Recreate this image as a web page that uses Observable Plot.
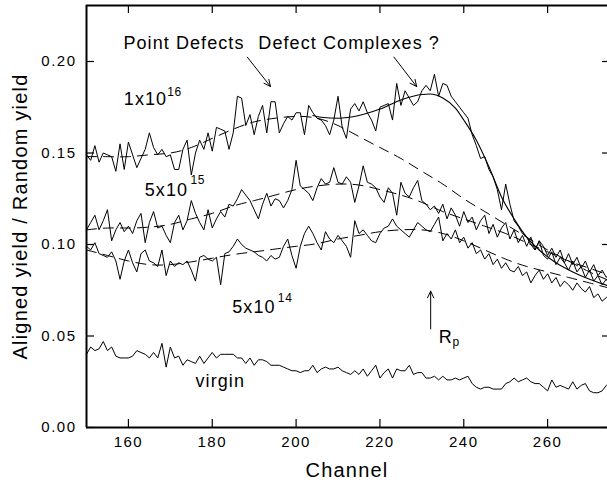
<!DOCTYPE html>
<html><head><meta charset="utf-8">
<script src="https://cdn.jsdelivr.net/npm/d3@7"></script>
<script src="https://cdn.jsdelivr.net/npm/@observablehq/plot@0.6"></script>
<style>
body{margin:0;background:#fff}
svg text{letter-spacing:0.06em}
svg [aria-label^="x-axis tick label"] text, svg [aria-label^="y-axis tick label"] text{letter-spacing:0.1em}
</style></head><body><div id="chart"></div>
<script>
// Channels (x)
const channels = d3.range(150, 276);
const xTicks = [160, 180, 200, 220, 240, 260];
const yTicks = [0, 0.05, 0.10, 0.15, 0.20];
const xDomain = [150, 275];
const yDomain = [0, 0.2306];

// Measured spectra (aligned/random yield), channels 150..275
const dose1e16 = [
0.149,0.146,0.154,0.145,0.150,0.149,0.148,0.140,0.155,0.141,
0.156,0.149,0.142,0.147,0.152,0.161,0.153,0.149,0.152,0.148,
0.149,0.141,0.141,0.152,0.157,0.138,0.150,0.157,0.152,0.161,
0.151,0.164,0.163,0.162,0.152,0.161,0.181,0.180,0.165,0.171,
0.160,0.170,0.176,0.161,0.178,0.178,0.161,0.166,0.170,0.168,
0.172,0.172,0.160,0.176,0.172,0.169,0.168,0.165,0.160,0.168,
0.181,0.164,0.158,0.174,0.177,0.173,0.178,0.172,0.168,0.162,
0.175,0.176,0.177,0.168,0.188,0.176,0.184,0.180,0.176,0.178,
0.184,0.187,0.184,0.193,0.181,0.188,0.187,0.181,0.178,0.175,
0.172,0.169,0.160,0.154,0.147,0.148,0.141,0.137,0.130,0.119,
0.133,0.122,0.113,0.110,0.106,0.104,0.100,0.097,0.102,0.094,
0.092,0.096,0.089,0.093,0.090,0.086,0.091,0.085,0.088,0.082,
0.086,0.080,0.083,0.078,0.081,0.077];
const dose5e15 = [
0.108,0.112,0.116,0.108,0.113,0.119,0.102,0.108,0.112,0.107,
0.110,0.106,0.113,0.117,0.101,0.112,0.118,0.109,0.110,0.105,
0.101,0.112,0.116,0.108,0.113,0.124,0.117,0.112,0.108,0.119,
0.109,0.114,0.118,0.115,0.122,0.121,0.125,0.130,0.127,0.124,
0.119,0.114,0.122,0.128,0.121,0.125,0.124,0.120,0.124,0.130,
0.146,0.132,0.130,0.128,0.124,0.131,0.136,0.133,0.134,0.142,
0.134,0.133,0.137,0.134,0.123,0.132,0.143,0.134,0.133,0.131,
0.126,0.123,0.131,0.128,0.116,0.134,0.128,0.126,0.131,0.135,
0.124,0.122,0.119,0.121,0.117,0.122,0.114,0.120,0.116,0.110,
0.118,0.112,0.115,0.108,0.113,0.116,0.106,0.111,0.104,0.109,
0.112,0.103,0.108,0.101,0.105,0.099,0.104,0.097,0.102,0.099,
0.094,0.098,0.093,0.097,0.090,0.095,0.089,0.093,0.087,0.091,
0.085,0.089,0.083,0.086,0.082,0.085];
const dose5e14 = [
0.099,0.097,0.101,0.095,0.094,0.093,0.096,0.091,0.081,0.091,
0.097,0.090,0.085,0.095,0.097,0.091,0.090,0.088,0.097,0.083,
0.091,0.088,0.090,0.089,0.091,0.086,0.080,0.093,0.094,0.092,
0.091,0.093,0.078,0.095,0.096,0.099,0.103,0.100,0.098,0.097,
0.096,0.094,0.093,0.091,0.094,0.092,0.093,0.099,0.103,0.094,
0.087,0.099,0.106,0.110,0.106,0.101,0.097,0.107,0.103,0.101,
0.105,0.102,0.099,0.093,0.113,0.106,0.108,0.105,0.102,0.101,
0.106,0.109,0.110,0.114,0.110,0.108,0.106,0.104,0.108,0.112,
0.110,0.108,0.107,0.111,0.115,0.102,0.106,0.103,0.108,0.101,
0.104,0.098,0.101,0.095,0.097,0.092,0.095,0.089,0.092,0.087,
0.090,0.086,0.085,0.088,0.083,0.085,0.079,0.083,0.086,0.081,
0.084,0.079,0.082,0.077,0.080,0.078,0.075,0.079,0.076,0.074,
0.077,0.071,0.073,0.069,0.071,0.073];
const virgin = [
0.040,0.044,0.042,0.043,0.047,0.042,0.044,0.039,0.038,0.038,
0.038,0.039,0.042,0.041,0.040,0.038,0.041,0.038,0.046,0.033,
0.044,0.038,0.039,0.034,0.037,0.036,0.035,0.039,0.035,0.038,
0.041,0.038,0.040,0.040,0.040,0.040,0.038,0.038,0.035,0.038,
0.034,0.037,0.037,0.036,0.034,0.034,0.034,0.033,0.032,0.031,
0.031,0.030,0.031,0.031,0.034,0.030,0.032,0.033,0.032,0.032,
0.033,0.031,0.030,0.029,0.031,0.029,0.032,0.028,0.031,0.034,
0.027,0.030,0.032,0.027,0.032,0.031,0.031,0.034,0.029,0.030,
0.030,0.027,0.027,0.028,0.026,0.028,0.026,0.026,0.027,0.026,
0.027,0.028,0.024,0.022,0.021,0.022,0.022,0.021,0.021,0.021,
0.024,0.025,0.027,0.025,0.026,0.027,0.025,0.024,0.024,0.022,
0.020,0.026,0.022,0.023,0.022,0.021,0.025,0.021,0.023,0.024,
0.020,0.019,0.019,0.020,0.023,0.025];

// Dashed fits (point-defect model), every 5 channels
const fitChannels = [150,155,160,165,170,175,180,185,190,195,200,205,210,215,220,225,230,235,240,245,250,255,260,265,270,275];
const fit1e16 = [0.148,0.148,0.148,0.149,0.150,0.153,0.158,0.163,0.167,0.169,0.170,0.169,0.165,0.159,0.153,0.147,0.140,0.133,0.125,0.118,0.111,0.104,0.097,0.091,0.085,0.080];
const fit5e15 = [0.108,0.109,0.109,0.1095,0.111,0.114,0.117,0.121,0.124,0.127,0.130,0.132,0.133,0.1325,0.130,0.127,0.123,0.118,0.114,0.110,0.106,0.101,0.096,0.091,0.087,0.083];
const fit5e14 = [0.097,0.094,0.091,0.089,0.089,0.0905,0.0925,0.0945,0.096,0.0975,0.099,0.1005,0.103,0.105,0.107,0.108,0.108,0.106,0.102,0.097,0.092,0.088,0.085,0.082,0.079,0.076];

// Solid fit with defect complexes (1e16)
const complexChannels = [204,206,210,215,220,225,230,232,235,238,240,243,246,249,252,255,258,262,266,270,275];
const complexFit = [0.1705,0.1695,0.169,0.1705,0.174,0.179,0.182,0.1822,0.180,0.1745,0.168,0.157,0.1425,0.126,0.114,0.104,0.097,0.090,0.085,0.081,0.077];

// Annotations
const labels = [
  {text: "Point Defects", x: 158.8, y: 0.2066, size: 18},
  {text: "Defect Complexes ?", x: 191.0, y: 0.2066, size: 18},
  {text: "1x10", x: 158.9, y: 0.1763, size: 18},
  {text: "16", x: 169.25, y: 0.1814, size: 12},
  {text: "5x10", x: 163.9, y: 0.1264, size: 18},
  {text: "15", x: 174.8, y: 0.1332, size: 12},
  {text: "5x10", x: 184.76, y: 0.0625, size: 18},
  {text: "14", x: 195.63, y: 0.0685, size: 12},
  {text: "virgin", x: 176.0, y: 0.0220, size: 18},
  {text: "R", x: 234.04, y: 0.0461, size: 18},
  {text: "p", x: 237.3, y: 0.0443, size: 12}
];
const arrows = [
  {x1: 188.35, y1: 0.2024, x2: 193.9, y2: 0.1863},
  {x1: 223.34, y1: 0.2024, x2: 228.76, y2: 0.1863},
  {x1: 232.1, y1: 0.0539, x2: 232.1, y2: 0.0745}
];

const xAt = (arr) => (d, i) => arr[i];
const lineOpts = (xs, extra = {}) => ({x: xAt(xs), y: d => d, stroke: "#000", strokeWidth: 1, ...extra});

const chart = Plot.plot({
  width: 607, height: 482,
  marginLeft: 86, marginRight: 0, marginTop: 5, marginBottom: 55,
  style: {fontFamily: "'Liberation Sans', Arial, Helvetica, sans-serif", background: "#fff", color: "#000"},
  x: {domain: xDomain, range: [86, 610]},
  y: {domain: yDomain, range: [427, 5]},
  marks: [
    Plot.line(virgin, lineOpts(channels)),
    Plot.line(dose5e14, lineOpts(channels)),
    Plot.line(dose5e15, lineOpts(channels)),
    Plot.line(dose1e16, lineOpts(channels)),
    Plot.line(fit5e14, lineOpts(fitChannels, {curve: "natural", strokeDasharray: "10,7"})),
    Plot.line(fit5e15, lineOpts(fitChannels, {curve: "natural", strokeDasharray: "10,7"})),
    Plot.line(fit1e16, lineOpts(fitChannels, {curve: "natural", strokeDasharray: "10,7"})),
    Plot.line(complexFit, lineOpts(complexChannels, {curve: "monotone-x", strokeWidth: 1.1})),
    // ticks (inward)
    Plot.ruleY(yTicks, {insetRight: 513, stroke: "#000", strokeWidth: 1.2}),
    Plot.ruleY(yTicks, {insetLeft: 516, stroke: "#000", strokeWidth: 1.2}),
    Plot.ruleX(xTicks, {insetTop: 414, stroke: "#000", strokeWidth: 1.2}),
    Plot.ruleX(xTicks, {insetBottom: 414, stroke: "#000", strokeWidth: 1.2}),
    // frame
    Plot.ruleX(xDomain, {stroke: "#000", strokeWidth: 2}),
    Plot.ruleY(yDomain, {stroke: "#000", strokeWidth: 2}),
    // axes
    Plot.axisX({ticks: xTicks, tickSize: 0, tickPadding: 9, fontSize: 15, label: null, anchor: "bottom"}),
    Plot.axisY({ticks: yTicks, tickFormat: d3.format(".2f"), tickSize: 0, tickPadding: 10, fontSize: 15, label: null, anchor: "left"}),
    Plot.text(["Channel"], {frameAnchor: "bottom", dy: 49, lineAnchor: "bottom", textAnchor: "middle", fontSize: 20, fill: "#000"}),
    Plot.text(["Aligned yield / Random yield"], {frameAnchor: "left", dx: -59.7, rotate: -90, lineAnchor: "bottom", textAnchor: "middle", fontSize: 20, fill: "#000"}),
    // annotations
    Plot.arrow(arrows, {x1: "x1", y1: "y1", x2: "x2", y2: "y2", headLength: 11, headAngle: 50, stroke: "#000", strokeWidth: 1}),
    Plot.text(labels, {x: "x", y: "y", text: "text", fontSize: "size", textAnchor: "start", lineAnchor: "bottom", fill: "#000"})
  ]
});
document.getElementById("chart").appendChild(chart);
</script></body></html>
